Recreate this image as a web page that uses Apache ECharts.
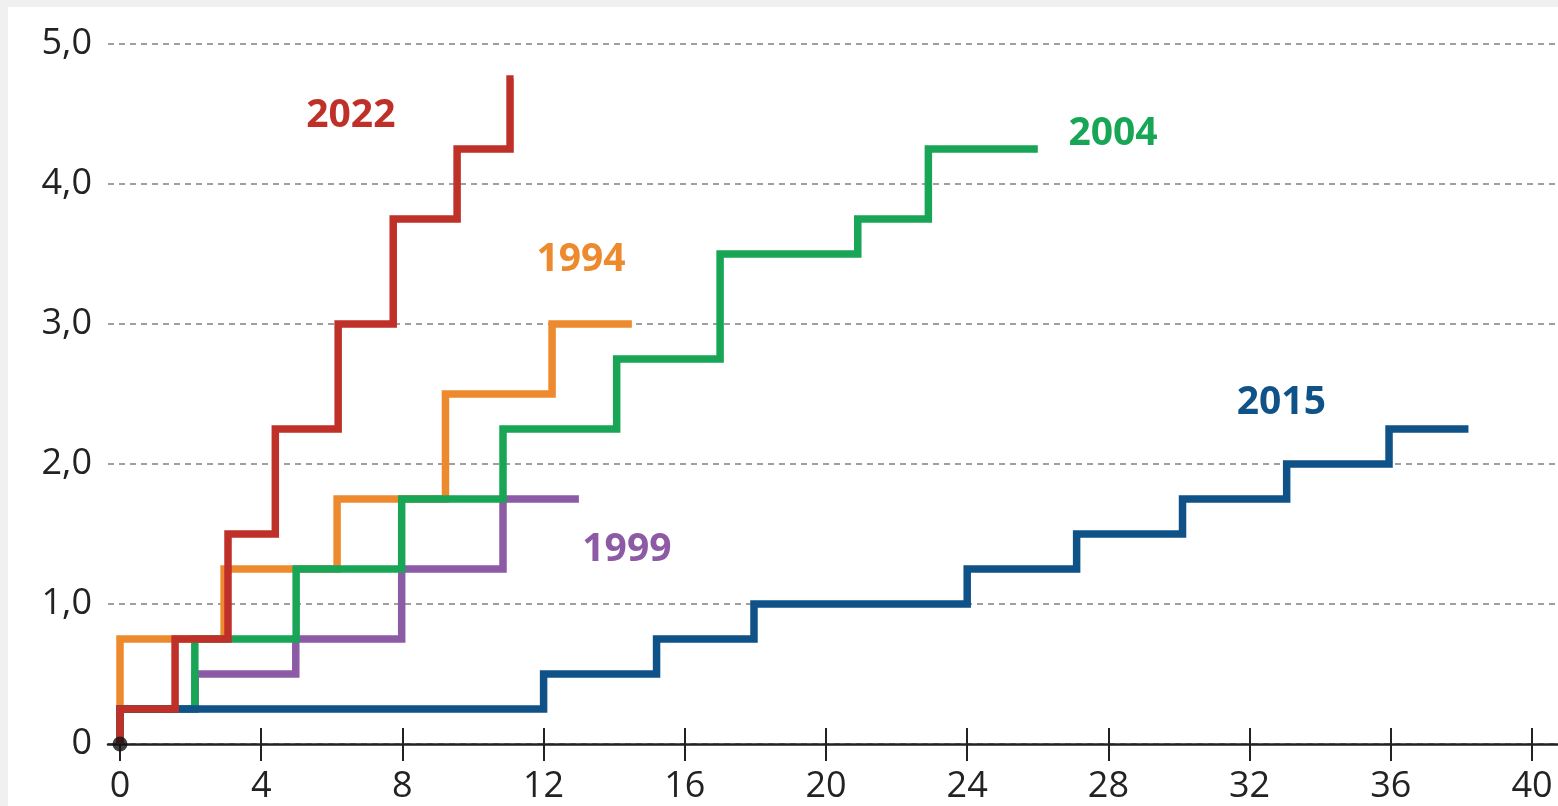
<!DOCTYPE html>
<html>
<head>
<meta charset="utf-8">
<script src="https://cdn.jsdelivr.net/npm/echarts@6/dist/echarts.min.js"></script>
<style>
  html, body { margin: 0; padding: 0; background: #f0f0f0; }
  #chart { position: absolute; left: 8px; top: 7px; width: 1550px; height: 799px; background: #fff; }
</style>
</head>
<body>
<div id="chart"></div>
<script>
// months since first hike / cumulative hikes in percentage points
const xTicks = [0, 4, 8, 12, 16, 20, 24, 28, 32, 36, 40];
const yTickLabels = ['0', '1,0', '2,0', '3,0', '4,0', '5,0'];

const cycle1994 = [[0, 0], [0, 0.75], [2.95, 1.25], [6.15, 1.75], [9.22, 2.5], [12.24, 3.0], [14.5, 3.0]];
const cycle1999 = [[0, 0], [0, 0.25], [2.13, 0.5], [4.98, 0.75], [7.98, 1.25], [10.85, 1.75], [13.0, 1.75]];
const cycle2004 = [[0, 0], [0, 0.25], [2.12, 0.75], [4.99, 1.25], [7.98, 1.75], [10.85, 2.25], [14.07, 2.75],
  [17.0, 3.5], [20.9, 3.75], [22.9, 4.25], [26.0, 4.25]];
const cycle2015 = [[0, 0], [0, 0.25], [12.0, 0.5], [15.2, 0.75], [17.96, 1.0], [24.0, 1.25], [27.1, 1.5],
  [30.1, 1.75], [33.05, 2.0], [35.95, 2.25], [38.2, 2.25]];
const cycle2022 = [[0, 0], [0, 0.25], [1.56, 0.75], [3.06, 1.5], [4.4, 2.25], [6.18, 3.0], [7.74, 3.75],
  [9.55, 4.25], [11.05, 4.75], [11.15, 4.75]];

const chart = echarts.init(document.getElementById('chart'));

const font = "'Open Sans', 'Noto Sans', sans-serif";

function stepSeries(name, data, color, labelAt) {
  return {
    name: name,
    type: 'line',
    xAxisIndex: 0,
    yAxisIndex: 0,
    step: 'end',
    symbol: 'none',
    data: data,
    lineStyle: { color: color, width: 7.5, cap: 'butt', join: 'miter' },
    markPoint: {
      symbol: 'circle',
      symbolSize: 0,
      silent: true,
      label: {
        show: true,
        position: 'inside',
        formatter: name,
        color: color,
        fontFamily: font,
        fontWeight: 'bold',
        fontSize: 39
      },
      data: [{ coord: labelAt }]
    }
  };
}

chart.setOption({
  animation: false,
  backgroundColor: '#fff',
  grid: [
    { left: 112, right: 26, top: 37, bottom: 62 },
    { left: 100, right: 0, top: 37, bottom: 62 }
  ],
  xAxis: [
    {
      type: 'value', gridIndex: 0, min: 0, max: 40, interval: 4,
      axisLine: { show: false },
      axisTick: { show: true, inside: false, length: 17, lineStyle: { color: '#222', width: 2 } },
      axisLabel: {
        fontSize: 36, color: '#222', fontFamily: font, margin: 25,
        formatter: v => xTicks.includes(v) ? String(v) : ''
      },
      splitLine: { show: false }
    },
    {
      type: 'value', gridIndex: 0, min: 0, max: 40, interval: 4, position: 'bottom',
      axisLine: { show: false },
      axisTick: { show: true, inside: true, length: 16, lineStyle: { color: '#222', width: 2 } },
      axisLabel: { show: false },
      splitLine: { show: false }
    },
    {
      type: 'value', gridIndex: 1, min: 0, max: 1,
      axisLine: { show: true, lineStyle: { color: '#222', width: 2.5 } },
      axisTick: { show: false },
      axisLabel: { show: false },
      splitLine: { show: false }
    }
  ],
  yAxis: [
    { type: 'value', gridIndex: 0, min: 0, max: 5, interval: 1, show: false },
    {
      type: 'value', gridIndex: 1, min: 0, max: 5, interval: 1,
      axisLine: { show: false },
      axisTick: { show: false },
      axisLabel: {
        fontSize: 36, color: '#222', fontFamily: font, margin: 16,
        padding: [0, 0, 10, 0],
        formatter: v => yTickLabels[Math.round(v)]
      },
      splitLine: { show: true, lineStyle: { color: '#a0a0a0', width: 2, type: [6, 5] } }
    }
  ],
  series: [
    stepSeries('1999', cycle1999, '#8d5aa5', [14.36, 1.39]),
    stepSeries('1994', cycle1994, '#ee8a2e', [13.06, 3.46]),
    stepSeries('2004', cycle2004, '#19a556', [28.13, 4.36]),
    stepSeries('2015', cycle2015, '#0f5288', [32.9, 2.44]),
    stepSeries('2022', cycle2022, '#bf3128', [6.54, 4.49]),
    {
      type: 'scatter',
      xAxisIndex: 0,
      yAxisIndex: 0,
      data: [[0, 0]],
      symbolSize: 15,
      itemStyle: { color: '#111' },
      z: 10,
      silent: true
    }
  ]
});
</script>
</body>
</html>
